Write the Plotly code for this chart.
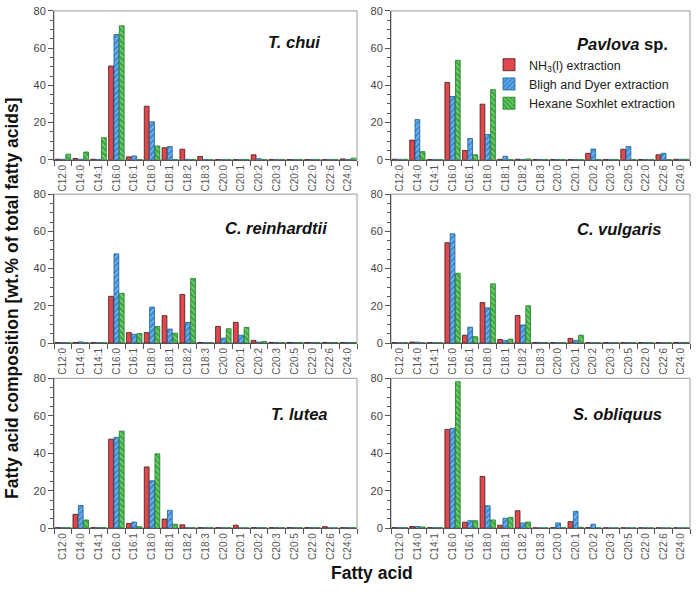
import plotly.graph_objects as go

W, H = 697, 592

categories = ["C12:0", "C14:0", "C14:1", "C16:0", "C16:1", "C18:0", "C18:1", "C18:2", "C18:3",
              "C20:0", "C20:1", "C20:2", "C20:3", "C20:5", "C22:0", "C22:6", "C24:0"]
y_ticks = [0, 20, 40, 60, 80]
series_names = ["NH<sub>3</sub>(l) extraction", "Bligh and Dyer extraction", "Hexane Soxhlet extraction"]
panel_titles = ["<b><i>T. chui</i></b>", "<b><i>Pavlova</i> sp.</b>",
                "<b><i>C. reinhardtii</i></b>", "<b><i>C. vulgaris</i></b>",
                "<b><i>T. lutea</i></b>", "<b><i>S. obliquus</i></b>"]

# T. chui
tchui_nh3 = [0.3, 0.7, 0.3, 50.4, 1.6, 28.8, 6.5, 5.7, 1.8, 0.2, 0.2, 2.7, 0.2, 0.2, 0.2, 0.2, 0.5]
tchui_bd  = [0.3, 0.3, 0.2, 67.3, 2.1, 20.4, 7.1, 0.3, 0.2, 0.2, 0.2, 0.6, 0.2, 0.2, 0.2, 0.2, 0.2]
tchui_hex = [3.0, 4.2, 11.9, 72.0, 0.2, 7.4, 0.2, 0.1, 0.1, 0.2, 0.2, 0.2, 0.2, 0.2, 0.2, 0.2, 0.9]
# Pavlova sp.
pav_nh3 = [0.3, 10.6, 0.2, 41.6, 5.0, 29.9, 0.3, 0.3, 0.2, 0.2, 0.2, 3.5, 0.2, 5.7, 0.2, 2.7, 0.3]
pav_bd  = [0.3, 21.6, 0.2, 34.0, 11.5, 13.6, 1.9, 0.2, 0.2, 0.2, 0.2, 5.8, 0.2, 7.1, 0.2, 3.5, 0.3]
pav_hex = [0.3, 4.4, 0.2, 53.5, 2.7, 37.7, 0.2, 0.5, 0.2, 0.2, 0.2, 0.2, 0.2, 0.2, 0.2, 0.2, 0.3]
# C. reinhardtii
crein_nh3 = [0.2, 0.3, 0.2, 25.1, 5.6, 5.6, 14.7, 26.1, 0.3, 8.9, 11.1, 1.4, 0.3, 0.3, 0.3, 0.3, 0.3]
crein_bd  = [0.3, 0.6, 0.2, 47.9, 4.7, 19.3, 7.5, 11.1, 0.2, 2.6, 4.2, 0.5, 0.3, 0.3, 0.3, 0.3, 0.3]
crein_hex = [0.2, 0.2, 0.2, 26.7, 5.1, 8.9, 5.3, 34.7, 0.2, 7.7, 8.4, 0.8, 0.3, 0.3, 0.3, 0.3, 0.3]
# C. vulgaris
cvul_nh3 = [0.2, 0.5, 0.2, 53.9, 4.2, 21.7, 1.9, 14.8, 0.3, 0.2, 2.5, 0.2, 0.2, 0.2, 0.2, 0.2, 0.3]
cvul_bd  = [0.2, 0.5, 0.2, 58.7, 8.5, 18.9, 1.4, 9.7, 0.3, 0.2, 1.4, 0.2, 0.2, 0.2, 0.2, 0.2, 0.3]
cvul_hex = [0.2, 0.2, 0.2, 37.5, 3.4, 31.8, 2.1, 20.0, 0.3, 0.2, 4.2, 0.2, 0.2, 0.2, 0.2, 0.2, 0.3]
# T. lutea
tlut_nh3 = [0.3, 7.4, 0.3, 47.5, 2.5, 32.7, 4.9, 1.8, 0.3, 0.3, 1.6, 0.3, 0.3, 0.3, 0.3, 0.8, 0.3]
tlut_bd  = [0.3, 12.1, 0.3, 48.5, 3.3, 25.3, 9.5, 0.3, 0.3, 0.3, 0.2, 0.3, 0.3, 0.3, 0.3, 0.2, 0.3]
tlut_hex = [0.3, 4.4, 0.3, 51.8, 0.8, 39.7, 2.1, 0.3, 0.3, 0.3, 0.2, 0.3, 0.3, 0.3, 0.3, 0.2, 0.3]
# S. obliquus
sobl_nh3 = [0.3, 0.9, 0.3, 52.7, 3.2, 27.6, 1.6, 9.3, 0.2, 0.3, 3.5, 0.3, 0.2, 0.2, 0.2, 0.2, 0.2]
sobl_bd  = [0.3, 0.9, 0.3, 53.3, 4.0, 12.0, 5.3, 2.8, 0.2, 2.8, 9.0, 2.1, 0.2, 0.2, 0.2, 0.2, 0.2]
sobl_hex = [0.3, 0.7, 0.3, 78.2, 4.0, 4.4, 5.8, 3.3, 0.2, 0.3, 0.5, 0.2, 0.2, 0.2, 0.2, 0.2, 0.2]

panels = [
    (tchui_nh3, tchui_bd, tchui_hex),
    (pav_nh3, pav_bd, pav_hex),
    (crein_nh3, crein_bd, crein_hex),
    (cvul_nh3, cvul_bd, cvul_hex),
    (tlut_nh3, tlut_bd, tlut_hex),
    (sobl_nh3, sobl_bd, sobl_hex),
]

# panel pixel boxes (left, right, top, bottom)
col_x = [(54, 357), (391, 690)]
row_y = [(5, 157), (192, 344), (380, 533)]
title_pos = [(294, 37), (622, 39), (276, 227), (619, 228), (299, 416), (617, 416)]

fills = ["#e2474b", "#3b8fd9", "#3bae3e"]
edges = ["#3a1c1c", "#1d5c96", "#1f7a22"]
shapes_pat = ["", "/", "\\"]

fig = go.Figure()
layout = {}
annotations = []
shapes = []

for i, vals in enumerate(panels):
    r, c = divmod(i, 2)
    k = "" if i == 0 else str(i + 1)
    x0, x1 = col_x[c]
    yt, yb = row_y[r]
    dom_x = [x0 / W, x1 / W]
    dom_y = [1 - yb / H, 1 - yt / H]
    for s in range(3):
        marker = dict(color=fills[s], line=dict(color=edges[s], width=0.8))
        if shapes_pat[s]:
            marker["pattern"] = dict(shape=shapes_pat[s], fgcolor="white", size=4, solidity=0.28)
        fig.add_trace(go.Bar(
            x=categories, y=vals[s], name=series_names[s], marker=marker,
            xaxis="x" + k, yaxis="y" + k, showlegend=(i == 1),
            legendgroup=str(s)))
    layout["xaxis" + k] = dict(
        domain=dom_x, anchor="y" + k, type="category", range=[-0.5, 16.5],
        showline=True, linecolor="#555", linewidth=1, ticks="outside", tickson="boundaries",
        ticklen=5, tickcolor="#555", tickangle=-90, tickfont=dict(size=10, color="#555",
        family="Liberation Sans, Arial"), showgrid=False, zeroline=False, fixedrange=True)
    layout["yaxis" + k] = dict(
        domain=dom_y, anchor="x" + k, range=[0, 80], tickvals=y_ticks,
        showline=True, linecolor="#555", linewidth=1, ticks="outside", ticklen=5,
        tickcolor="#555", tickfont=dict(size=11, color="#444", family="Liberation Sans, Arial"),
        minor=dict(dtick=5, ticks="outside", ticklen=3, tickcolor="#555", showgrid=False),
        showgrid=False, zeroline=False)
    shapes.append(dict(type="rect", xref="x" + k + " domain", yref="y" + k + " domain",
                       x0=0, x1=1, y0=0, y1=1, line=dict(color="#999", width=1), layer="below"))
    tx, ty = title_pos[i]
    annotations.append(dict(x=tx / W, y=1 - ty / H, xref="paper", yref="paper",
                            text=panel_titles[i], showarrow=False, xanchor="center", yanchor="middle",
                            font=dict(size=16.5, color="#111", family="Liberation Sans, Arial")))

annotations.append(dict(x=12 / W, y=1 - 298 / H, xref="paper", yref="paper",
                        text="<b>Fatty acid composition [wt.% of total fatty acids]</b>",
                        textangle=-90, showarrow=False, xanchor="center", yanchor="middle",
                        font=dict(size=17.5, color="#111", family="Liberation Sans, Arial")))
annotations.append(dict(x=372 / W, y=1 - 579 / H, xref="paper", yref="paper",
                        text="<b>Fatty acid</b>", showarrow=False, xanchor="center", yanchor="middle",
                        font=dict(size=17.5, color="#111", family="Liberation Sans, Arial")))

fig.update_layout(
    width=W, height=H, margin=dict(l=0, r=0, t=0, b=0),
    paper_bgcolor="white", plot_bgcolor="white",
    barmode="group", bargap=0.1, bargroupgap=0.1,
    showlegend=True,
    legend=dict(x=489 / W, y=1 - 45 / H, xanchor="left", yanchor="top",
                bgcolor="rgba(0,0,0,0)", tracegroupgap=0,
                font=dict(size=12.5, color="#222", family="Liberation Sans, Arial")),
    annotations=annotations, shapes=shapes, **layout)

fig.write_html("out.html")
